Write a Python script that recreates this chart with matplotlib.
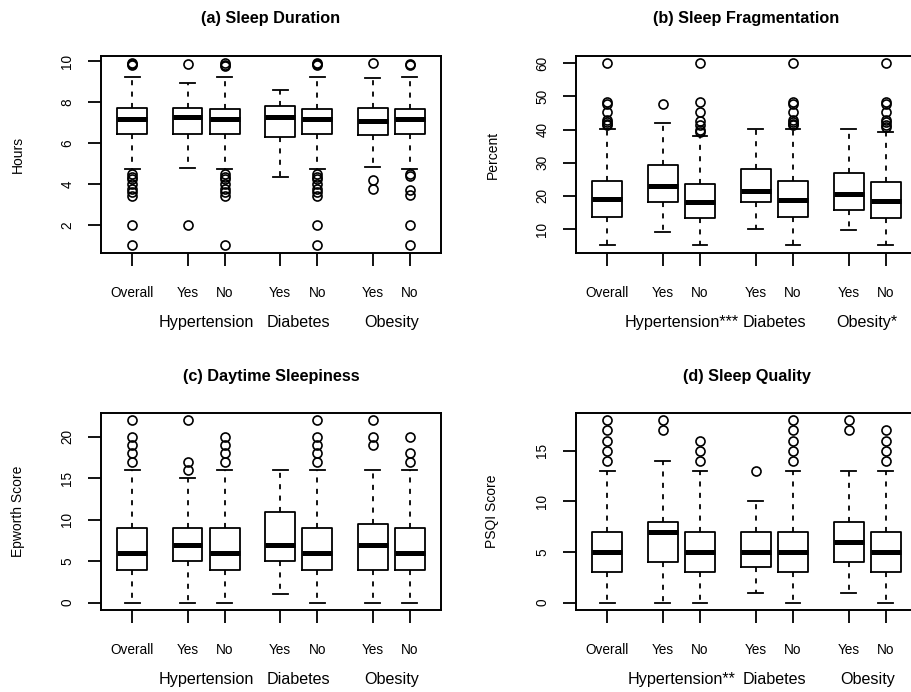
import matplotlib
matplotlib.use("Agg")
import matplotlib.pyplot as plt
import matplotlib.transforms as mtransforms

plt.rcParams['font.family'] = ['Liberation Sans', 'DejaVu Sans']

positions = [1, 2.5, 3.5, 5, 6, 7.5, 8.5]
tick_labels = ['Overall', 'Yes', 'No', 'Yes', 'No', 'Yes', 'No']
group_pos = [3, 5.5, 8]

# (a) Sleep Duration, hours
dur_q1 = [6.44, 6.44, 6.47, 6.31, 6.47, 6.39, 6.47]
dur_med = [7.17, 7.28, 7.17, 7.28, 7.17, 7.09, 7.2]
dur_q3 = [7.71, 7.74, 7.69, 7.82, 7.69, 7.71, 7.69]
dur_lo = [4.76, 4.81, 4.76, 4.37, 4.76, 4.85, 4.76]
dur_hi = [9.24, 8.96, 9.24, 8.59, 9.24, 9.17, 9.24]
dur_out = [
    [9.9, 9.85, 9.8, 4.49, 4.36, 4.24, 4.0, 3.76, 3.6, 3.4, 2.0, 1.05],
    [9.85, 2.0],
    [9.9, 9.8, 9.75, 4.49, 4.36, 4.24, 4.0, 3.76, 3.6, 3.4, 1.05],
    [],
    [9.9, 9.85, 9.8, 4.49, 4.36, 4.24, 4.0, 3.76, 3.6, 3.4, 2.0, 1.05],
    [9.9, 4.21, 3.76],
    [9.85, 9.8, 4.49, 4.4, 3.7, 3.45, 2.0, 1.05],
]

# (b) Sleep Fragmentation, percent
frag_q1 = [13.7, 18.25, 13.5, 18.25, 13.7, 15.8, 13.5]
frag_med = [19.05, 23.1, 18.05, 21.4, 18.85, 20.5, 18.55]
frag_q3 = [24.6, 29.3, 23.6, 28.1, 24.4, 26.9, 24.1]
frag_lo = [5.3, 9.0, 5.3, 10.0, 5.3, 9.7, 5.3]
frag_hi = [40.2, 42.0, 38.2, 40.2, 40.2, 40.2, 39.4]
frag_out = [
    [60, 48.3, 47.7, 45.3, 43, 42.3, 41.7, 41.3],
    [47.7],
    [60, 48.2, 45.3, 42.5, 41.5, 40, 39.3],
    [],
    [60, 48.3, 47.7, 45.3, 43, 42.3, 41.7, 41.3],
    [],
    [60, 48.3, 47.6, 45.3, 43, 42.2, 41.5, 40.8],
]

# (c) Daytime Sleepiness, Epworth score
ess_q1 = [4, 5, 4, 5, 4, 4, 4]
ess_med = [6, 7, 6, 7, 6, 7, 6]
ess_q3 = [9, 9, 9, 11, 9, 9.5, 9]
ess_lo = [0, 0, 0, 1, 0, 0, 0]
ess_hi = [16, 15, 16, 16, 16, 16, 16]
ess_out = [
    [22, 20, 19, 18, 17],
    [22, 17, 16],
    [20, 19, 18, 17],
    [],
    [22, 20, 19, 18, 17],
    [22, 20, 19],
    [20, 18, 17],
]

# (d) Sleep Quality, PSQI score
psqi_q1 = [3, 4, 3, 3.5, 3, 4, 3]
psqi_med = [5, 7, 5, 5, 5, 6, 5]
psqi_q3 = [7, 8, 7, 7, 7, 8, 7]
psqi_lo = [0, 0, 0, 1, 0, 1, 0]
psqi_hi = [13, 14, 13, 10, 13, 13, 13]
psqi_out = [
    [18, 17, 16, 15, 14],
    [18, 17],
    [16, 15, 14],
    [13],
    [18, 17, 16, 15, 14],
    [18, 17],
    [17, 16, 15, 14],
]

W, H = 911, 692
fig = plt.figure(figsize=(W / 100, H / 100), dpi=100)


def make_stats(q1, med, q3, lo, hi, out):
    return [dict(q1=a, med=b, q3=c, whislo=d, whishi=e, fliers=f)
            for a, b, c, d, e, f in zip(q1, med, q3, lo, hi, out)]


def panel(rect_px, stats, title, ylabel, yticks, ylim, groups):
    l, t, r, b = rect_px
    ax = fig.add_axes([l / W, 1 - b / H, (r - l) / W, (b - t) / H])
    hpx = b - t
    ax.bxp(stats, positions=positions, widths=0.8, capwidths=0.4,
           boxprops=dict(color='black', linewidth=1.3),
           whiskerprops=dict(color='black', linewidth=1.3, linestyle=(0, (2.8, 3.5))),
           capprops=dict(color='black', linewidth=1.3),
           medianprops=dict(color='black', linewidth=3.6, solid_capstyle='butt'),
           flierprops=dict(marker='o', markerfacecolor='none', markeredgecolor='black',
                           markersize=6.5, markeredgewidth=1.2))
    ax.set_xlim(0.16, 9.34)
    ax.set_ylim(*ylim)
    ax.set_xticks(positions, tick_labels)
    ax.set_yticks(yticks, [str(v) for v in yticks])
    ax.tick_params(axis='x', length=9.4, width=1.3, pad=14.5, labelsize=9.8)
    ax.tick_params(axis='y', length=9.1, width=1.3, pad=10, labelsize=9.8)
    plt.setp(ax.get_yticklabels(), rotation=90, va='center')
    for s in ax.spines.values():
        s.set_linewidth(1.4)
    ax.text(0.5, 1 + 37 / hpx, title, transform=ax.transAxes, ha='center',
            va='center', fontsize=11.7, fontweight='bold')
    ax.text(-0.245, 0.5, ylabel, transform=ax.transAxes, rotation=90,
            ha='center', va='center', fontsize=10)
    trans = mtransforms.blended_transform_factory(ax.transData, ax.transAxes)
    for x, g in zip(group_pos, groups):
        ax.text(x, -69.5 / hpx, g, transform=trans, ha='center', va='center',
                fontsize=11.6)
    return ax


panel((101, 56, 441, 253), make_stats(dur_q1, dur_med, dur_q3, dur_lo, dur_hi, dur_out),
      '(a) Sleep Duration', 'Hours', [2, 4, 6, 8, 10], (0.64, 10.26),
      ['Hypertension', 'Diabetes', 'Obesity'])
panel((576, 56, 917, 253), make_stats(frag_q1, frag_med, frag_q3, frag_lo, frag_hi, frag_out),
      '(b) Sleep Fragmentation', 'Percent', [10, 20, 30, 40, 50, 60], (2.8, 62.2),
      ['Hypertension***', 'Diabetes', 'Obesity*'])
panel((101, 413, 441, 610), make_stats(ess_q1, ess_med, ess_q3, ess_lo, ess_hi, ess_out),
      '(c) Daytime Sleepiness', 'Epworth Score', [0, 5, 10, 15, 20], (-0.88, 22.88),
      ['Hypertension', 'Diabetes', 'Obesity'])
panel((576, 413, 917, 610), make_stats(psqi_q1, psqi_med, psqi_q3, psqi_lo, psqi_hi, psqi_out),
      '(d) Sleep Quality', 'PSQI Score', [0, 5, 10, 15], (-0.72, 18.72),
      ['Hypertension**', 'Diabetes', 'Obesity'])

fig.savefig('out.png', dpi=100)
